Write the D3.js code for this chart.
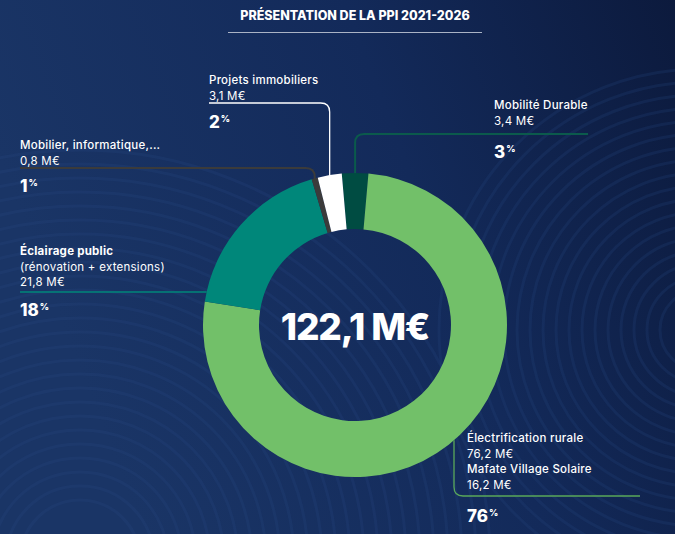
<!DOCTYPE html>
<html>
<head>
<meta charset="utf-8">
<script src="https://cdn.jsdelivr.net/npm/d3@7"></script>
<style>
  body { margin: 0; background: #13285a; }
  svg { display: block; font-family: "Inter", "Noto Sans", sans-serif; }
</style>
</head>
<body>
<svg id="chart" width="675" height="534"></svg>
<script>
// PPI 2021-2026 data
const categories = ["Mobilité Durable", "Électrification rurale", "Éclairage public", "Mobilier, informatique,...", "Projets immobiliers"];
const amounts = [3.4, 92.4, 21.8, 0.8, 3.1];
const percents = ["3", "76", "18", "1", "2"];
const colors = ["#004c42", "#72c069", "#00877a", "#3b3b3b", "#ffffff"];
const lineColors = ["#0b5a4c", "#5aa85a", "#00877a", "#3b3b3b", "#ffffff"];
const detailLines = [
  ["3,4 M€"],
  ["76,2 M€", "Mafate Village Solaire", "16,2 M€"],
  ["(rénovation + extensions)", "21,8 M€"],
  ["0,8 M€"],
  ["3,1 M€"]
];
const total = "122,1 M€";
const title = "PRÉSENTATION DE LA PPI 2021-2026";

const width = 675, height = 534;
const cx = 355, cy = 325, outerR = 152, innerR = 96;

const svg = d3.select("#chart");

// background
const defs = svg.append("defs");
const grad = defs.append("linearGradient").attr("id", "bg")
  .attr("x1", "0%").attr("y1", "30%").attr("x2", "100%").attr("y2", "0%");
grad.append("stop").attr("offset", "0%").attr("stop-color", "#1a3566");
grad.append("stop").attr("offset", "55%").attr("stop-color", "#132a5a");
grad.append("stop").attr("offset", "100%").attr("stop-color", "#0c1a3d");
svg.append("rect").attr("width", width).attr("height", height).attr("fill", "url(#bg)");

// decorative waves
const waves = svg.append("g").attr("fill", "none").attr("stroke", "#2a4a82").attr("stroke-opacity", 0.22).attr("stroke-width", 3);
for (let i = 0; i < 26; i++) {
  waves.append("circle").attr("cx", 80).attr("cy", 560).attr("r", 60 + i * 14);
}
const waves2 = svg.append("g").attr("fill", "none").attr("stroke", "#24427a").attr("stroke-opacity", 0.25).attr("stroke-width", 3);
for (let i = 0; i < 18; i++) {
  waves2.append("circle").attr("cx", 700).attr("cy", 330).attr("r", 40 + i * 13);
}

// title
svg.append("text")
  .attr("x", 355).attr("y", 20)
  .attr("text-anchor", "middle")
  .attr("fill", "#ffffff")
  .attr("font-size", 12.5)
  .attr("font-weight", 800)
  .attr("letter-spacing", 0)
  .text(title);
svg.append("line")
  .attr("x1", 228).attr("x2", 482).attr("y1", 32.5).attr("y2", 32.5)
  .attr("stroke", "#aab3c5").attr("stroke-width", 1.2);

// donut
const pie = d3.pie().sort(null).value(d => d)
  .startAngle(-5 * Math.PI / 180)
  .endAngle(355 * Math.PI / 180);
const arcs = pie(amounts);
const arc = d3.arc().innerRadius(innerR).outerRadius(outerR);

const g = svg.append("g").attr("transform", `translate(${cx},${cy})`);
g.selectAll("path.slice")
  .data(arcs)
  .enter()
  .append("path")
  .attr("class", "slice")
  .attr("d", arc)
  .attr("fill", (d, i) => colors[i]);

// leader lines
function pointAtAngle(a) {
  return [cx + outerR * Math.sin(a), cy - outerR * Math.cos(a)];
}
function yOnCircle(x, lower) {
  const dx = x - cx;
  const dy = Math.sqrt(outerR * outerR - dx * dx);
  return lower ? cy + dy : cy - dy;
}
function xOnCircle(y) {
  const dy = y - cy;
  return cx - Math.sqrt(outerR * outerR - dy * dy);
}
const midAngle = d => (d.startAngle + d.endAngle) / 2;

// label layout
const labelPos = [
  { x: 494, y: 109 },
  { x: 467, y: 442 },
  { x: 20, y: 255 },
  { x: 20, y: 149 },
  { x: 209, y: 84 }
];
const lead = svg.append("g").attr("fill", "none").attr("stroke-width", 1.3);
const rc = 9;

// Mobilité Durable: up then right
{
  const p = pointAtAngle(midAngle(arcs[0]));
  const hy = 134, x2 = 588;
  lead.append("path")
    .attr("d", `M${p[0]},${p[1]} V${hy + rc} Q${p[0]},${hy} ${p[0] + rc},${hy} H${x2}`)
    .attr("stroke", lineColors[0]).attr("stroke-width", 2);
}
// Électrification: down then right
{
  const vx = 454, hy = 496, x2 = 640;
  const y0 = yOnCircle(vx, true);
  lead.append("path")
    .attr("d", `M${vx},${y0} V${hy - rc} Q${vx},${hy} ${vx + rc},${hy} H${x2}`)
    .attr("stroke", lineColors[1]);
}
// Éclairage: horizontal
{
  const hy = 292;
  lead.append("path")
    .attr("d", `M20,${hy} H${xOnCircle(hy)}`)
    .attr("stroke", lineColors[2]).attr("stroke-width", 1.6);
}
// Mobilier: left then up
{
  const p = pointAtAngle(midAngle(arcs[3]));
  const hy = 168;
  lead.append("path")
    .attr("d", `M20,${hy} H${p[0] - rc} Q${p[0]},${hy} ${p[0]},${hy + rc} V${p[1] + 2}`)
    .attr("stroke", lineColors[3]).attr("stroke-width", 2);
}
// Projets immobiliers: left then up
{
  const p = pointAtAngle(midAngle(arcs[4]));
  const hy = 103;
  lead.append("path")
    .attr("d", `M209,${hy} H${p[0] - rc} Q${p[0]},${hy} ${p[0]},${hy + rc} V${p[1] + 2}`)
    .attr("stroke", lineColors[4]);
}

// labels
const pctOffset = [33, 0, 30, 27, 28];
const labels = svg.append("g").attr("fill", "#ffffff").attr("letter-spacing", 0.25);
categories.forEach((name, i) => {
  const pos = labelPos[i];
  labels.append("text")
    .attr("x", pos.x).attr("y", pos.y)
    .attr("font-size", 11.5)
    .attr("font-weight", i === 2 ? 700 : 500)
    .text(name);
  detailLines[i].forEach((line, j) => {
    labels.append("text")
      .attr("x", pos.x).attr("y", pos.y + 15.5 * (j + 1))
      .attr("font-size", 11.5)
      .attr("font-weight", (i === 1 && j === 1) ? 500 : 400)
      .text(line);
  });
  const lastY = pos.y + 15.5 * detailLines[i].length;
  const py = i === 1 ? 522 : lastY + pctOffset[i];
  const pt = labels.append("text")
    .attr("x", pos.x).attr("y", py)
    .attr("font-size", 17)
    .attr("font-weight", 800)
    .attr("letter-spacing", 0);
  pt.append("tspan").text(percents[i]);
  pt.append("tspan").attr("font-size", 9).attr("dy", -6).attr("dx", 1).text("%");
});

// center total
svg.append("text")
  .attr("x", cx).attr("y", 340)
  .attr("text-anchor", "middle")
  .attr("fill", "#ffffff")
  .attr("font-size", 37)
  .attr("font-weight", 800)
  .attr("letter-spacing", -1.2)
  .text(total);
</script>
</body>
</html>
